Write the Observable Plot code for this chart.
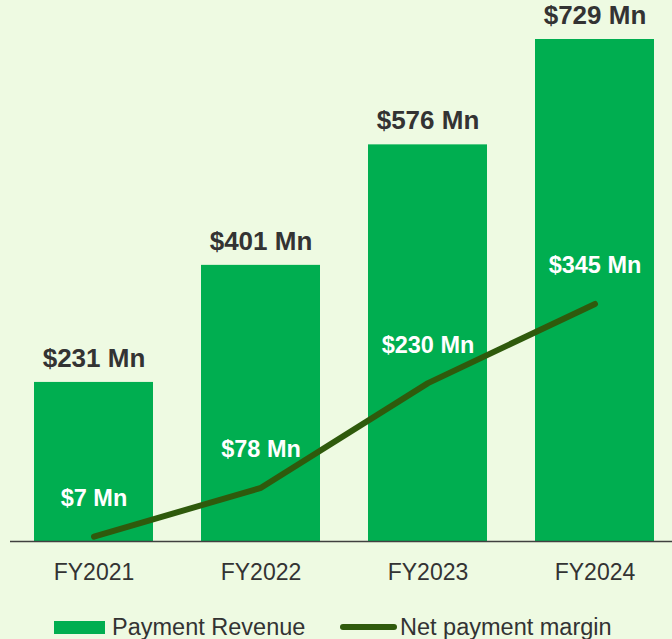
<!DOCTYPE html>
<html>
<head>
<meta charset="utf-8">
<script src="https://cdn.jsdelivr.net/npm/d3@7"></script>
<script src="https://cdn.jsdelivr.net/npm/@observablehq/plot@0.6"></script>
<style>
  html, body { margin: 0; padding: 0; background: #eefae2; }
  #chart { width: 672px; }
  svg { display: block; }
</style>
</head>
<body>
<div id="chart"></div>
<script>
const categories = ["FY2021", "FY2022", "FY2023", "FY2024"];
const paymentRevenue = [231, 401, 576, 729];
const netPaymentMargin = [7, 78, 230, 345];
const seriesNames = ["Payment Revenue", "Net payment margin"];

const barColor = "#00ae50";
const lineColor = "#2f5a0c";
const textColor = "#333333";
const font = "'Liberation Sans', Arial, sans-serif";

const data = categories.map((c, i) => ({
  fy: c,
  revenue: paymentRevenue[i],
  margin: netPaymentMargin[i]
}));

const chart = Plot.plot({
  width: 672,
  height: 600,
  marginLeft: 10,
  marginRight: 0,
  marginTop: 0,
  marginBottom: 59,
  style: { background: "transparent", fontFamily: font },
  x: { domain: categories, range: [8, 680], paddingInner: 0.2857, paddingOuter: 0.1429, align: 0.5, label: null },
  y: { domain: [0, 729], range: [541, 39], axis: null },
  marks: [
    Plot.barY(data, { x: "fy", y: "revenue", fill: barColor }),
    Plot.ruleY([0], { stroke: "#404040", strokeWidth: 1.6 }),
    Plot.line(data, {
      x: "fy", y: "margin", stroke: lineColor, strokeWidth: 6,
      strokeLinecap: "round", strokeLinejoin: "round"
    }),
    Plot.text(data, {
      x: "fy", y: "revenue", text: d => `$${d.revenue} Mn`,
      dy: -24, fontSize: 26, fontWeight: "bold", fill: textColor
    }),
    Plot.text(data, {
      x: "fy", y: "margin", text: d => `$${d.margin} Mn`,
      dy: -38, fontSize: 23.5, fontWeight: "bold", fill: "#ffffff"
    }),
    Plot.axisX({ tickSize: 0, tickPadding: 22, fontSize: 23, fill: textColor, label: null })
  ]
});
document.getElementById("chart").appendChild(chart);

// Legend below the plot
const legend = d3.create("svg")
  .attr("width", 672)
  .attr("height", 39)
  .style("font-family", font);

legend.append("rect")
  .attr("x", 54).attr("y", 21).attr("width", 51).attr("height", 13)
  .attr("fill", barColor);
legend.append("text")
  .attr("x", 112).attr("y", 35)
  .attr("font-size", 23.5).attr("fill", textColor)
  .text(seriesNames[0]);

legend.append("line")
  .attr("x1", 343).attr("x2", 394).attr("y1", 27).attr("y2", 27)
  .attr("stroke", lineColor).attr("stroke-width", 6).attr("stroke-linecap", "round");
legend.append("text")
  .attr("x", 400).attr("y", 35)
  .attr("font-size", 23.5).attr("fill", textColor)
  .text(seriesNames[1]);

document.getElementById("chart").appendChild(legend.node());
</script>
</body>
</html>
